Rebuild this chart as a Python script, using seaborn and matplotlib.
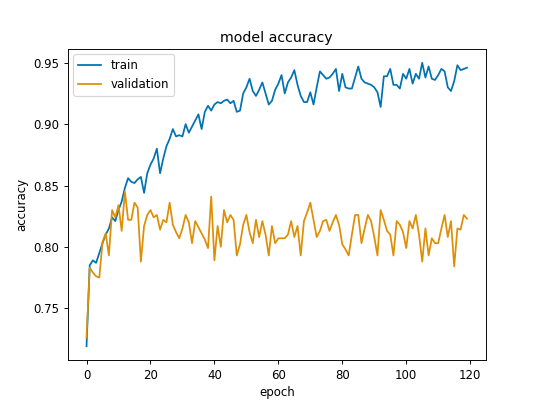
import pandas as pd
import seaborn as sns
import matplotlib.pyplot as plt

# accuracy per epoch
train = [0.719, 0.785, 0.789, 0.787, 0.795, 0.803, 0.810, 0.815, 0.824, 0.821,
         0.830, 0.837, 0.848, 0.856, 0.853, 0.852, 0.855, 0.857, 0.844, 0.860,
         0.867, 0.872, 0.880, 0.860, 0.872, 0.882, 0.888, 0.896, 0.890, 0.891,
         0.890, 0.900, 0.893, 0.898, 0.903, 0.908, 0.896, 0.910, 0.915, 0.911,
         0.916, 0.918, 0.917, 0.919, 0.920, 0.917, 0.919, 0.910, 0.911, 0.925,
         0.930, 0.937, 0.927, 0.923, 0.928, 0.934, 0.925, 0.916, 0.919, 0.928,
         0.933, 0.940, 0.925, 0.934, 0.938, 0.944, 0.932, 0.923, 0.918, 0.918,
         0.926, 0.916, 0.930, 0.943, 0.940, 0.937, 0.938, 0.941, 0.945, 0.927,
         0.941, 0.930, 0.929, 0.929, 0.938, 0.947, 0.937, 0.934, 0.933, 0.932,
         0.930, 0.926, 0.914, 0.939, 0.939, 0.945, 0.932, 0.932, 0.929, 0.941,
         0.937, 0.945, 0.933, 0.941, 0.937, 0.950, 0.938, 0.947, 0.937, 0.936,
         0.940, 0.945, 0.943, 0.930, 0.927, 0.935, 0.948, 0.944, 0.945, 0.946]

validation = [0.726, 0.783, 0.779, 0.776, 0.775, 0.804, 0.811, 0.793, 0.830, 0.824,
              0.834, 0.813, 0.845, 0.822, 0.822, 0.836, 0.832, 0.788, 0.817, 0.826,
              0.830, 0.824, 0.826, 0.814, 0.822, 0.820, 0.836, 0.818, 0.812, 0.807,
              0.815, 0.826, 0.820, 0.803, 0.821, 0.816, 0.811, 0.806, 0.799, 0.841,
              0.789, 0.817, 0.800, 0.830, 0.820, 0.826, 0.822, 0.793, 0.802, 0.818,
              0.826, 0.812, 0.803, 0.822, 0.808, 0.821, 0.810, 0.793, 0.817, 0.803,
              0.807, 0.807, 0.807, 0.810, 0.821, 0.808, 0.817, 0.793, 0.821, 0.828,
              0.836, 0.822, 0.808, 0.813, 0.821, 0.822, 0.813, 0.820, 0.826, 0.818,
              0.802, 0.798, 0.793, 0.810, 0.826, 0.826, 0.803, 0.815, 0.826, 0.821,
              0.808, 0.793, 0.830, 0.822, 0.813, 0.810, 0.793, 0.821, 0.818, 0.812,
              0.799, 0.821, 0.815, 0.826, 0.810, 0.788, 0.815, 0.793, 0.807, 0.803,
              0.803, 0.815, 0.826, 0.808, 0.821, 0.784, 0.815, 0.814, 0.826, 0.823]

history = pd.DataFrame({"train": train, "validation": validation})

plt.figure(figsize=(6.4, 4.8), dpi=84.375)
colors = sns.color_palette("colorblind")[:2]
ax = sns.lineplot(data=history, palette=colors, dashes=False, linewidth=1.5)
ax.set_title("model accuracy")
ax.set_xlabel("epoch")
ax.set_ylabel("accuracy")
ax.legend(loc="upper left")

plt.savefig("out.png", dpi=84.375)
